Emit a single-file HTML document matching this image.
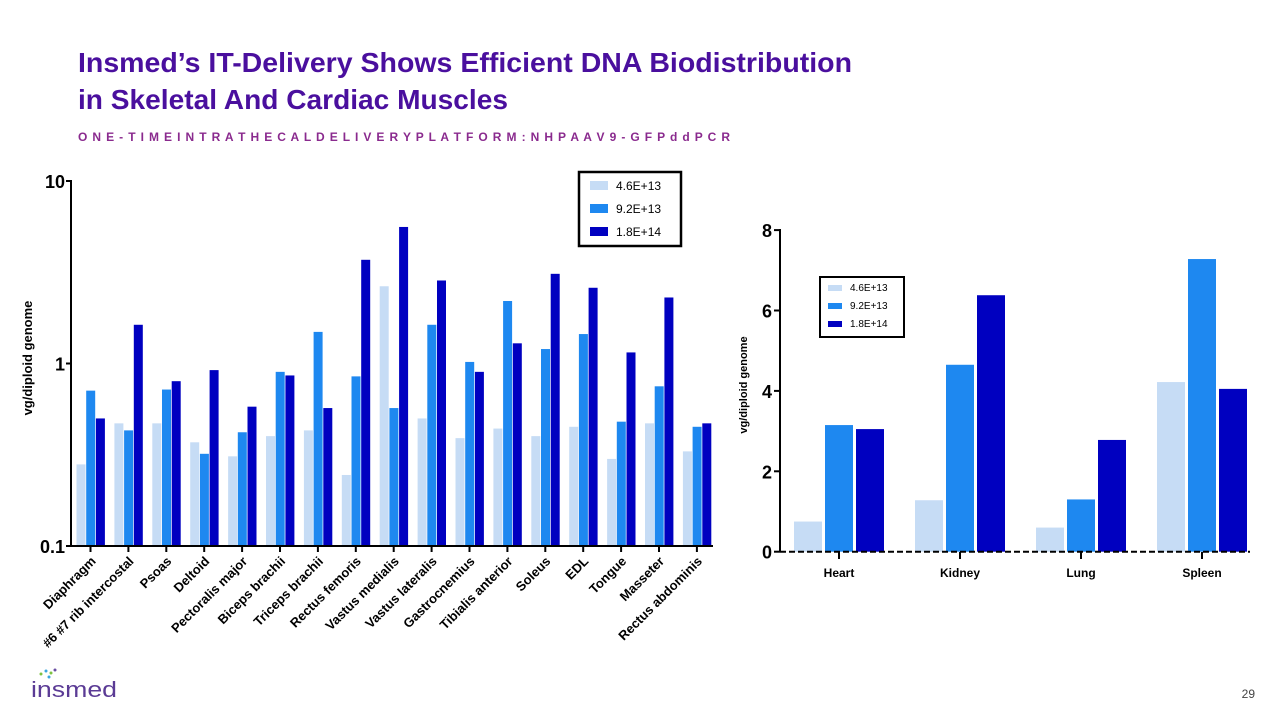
<!DOCTYPE html>
<html><head><meta charset="utf-8"><style>
body{margin:0;background:#fff;width:1280px;height:720px;overflow:hidden;font-family:"Liberation Sans",sans-serif}
svg{display:block}
</style></head><body>
<svg id="s" width="1280" height="720" viewBox="0 0 1280 720">
<text x="78" y="72" font-size="28" font-weight="bold" fill="#4a0f9e" textLength="774" lengthAdjust="spacingAndGlyphs">Insmed’s IT-Delivery Shows Efficient DNA Biodistribution</text>
<text x="78" y="109" font-size="28" font-weight="bold" fill="#4a0f9e" textLength="430" lengthAdjust="spacingAndGlyphs">in Skeletal And Cardiac Muscles</text>
<text x="78" y="141" font-size="12" font-weight="bold" fill="#8a2a8e" textLength="652" lengthAdjust="spacing">O N E - T I M E I N T R A T H E C A L D E L I V E R Y P L A T F O R M : N H P A A V 9 - G F P d d P C R</text>
<g>
<circle cx="41" cy="674" r="1.5" fill="#7dc242"/><circle cx="46" cy="671" r="1.5" fill="#3aa6dd"/><circle cx="51" cy="673" r="1.5" fill="#7dc242"/><circle cx="55" cy="670" r="1.5" fill="#6a4fa3"/><circle cx="49" cy="677" r="1.5" fill="#3aa6dd"/>
<text x="31" y="697" font-size="22" fill="#5b3b95" textLength="86" lengthAdjust="spacingAndGlyphs">insmed</text></g>
<text x="1255" y="698" font-size="12" fill="#444" text-anchor="end">29</text>
<g id="left"></g><g id="right"></g>
</svg>
<script>
const colors=["#c6dcf5","#1e88f0","#0000c0"];
const seriesNames=["4.6E+13","9.2E+13","1.8E+14"];
const muscles=["Diaphragm","#6 #7 rib intercostal","Psoas","Deltoid","Pectoralis major","Biceps brachii","Triceps brachii","Rectus femoris","Vastus medialis","Vastus lateralis","Gastrocnemius","Tibialis anterior","Soleus","EDL","Tongue","Masseter","Rectus abdominis"];
const muscleLow=[0.28,0.47,0.47,0.37,0.31,0.40,0.43,0.245,2.65,0.50,0.39,0.44,0.40,0.45,0.30,0.47,0.33];
const muscleMid=[0.71,0.43,0.72,0.32,0.42,0.90,1.49,0.85,0.57,1.63,1.02,2.2,1.2,1.45,0.48,0.75,0.45];
const muscleHigh=[0.50,1.63,0.80,0.92,0.58,0.86,0.57,3.7,5.6,2.85,0.90,1.29,3.1,2.6,1.15,2.3,0.47];
const logTicks=[10,1,0.1];
const organs=["Heart","Kidney","Lung","Spleen"];
const organLow=[0.75,1.28,0.6,4.22];
const organMid=[3.15,4.65,1.3,7.28];
const organHigh=[3.05,6.38,2.78,4.05];
const linTicks=[0,2,4,6,8];
const NS="http://www.w3.org/2000/svg";
function mk(p,t,a,txt){const e=document.createElementNS(NS,t);for(const k in a)e.setAttribute(k,a[k]);if(txt!==undefined)e.textContent=txt;p.appendChild(e);return e;}
// left chart
const L=document.getElementById('left');
const yL=v=>546-182.5*Math.log10(v/0.1);
const xL=i=>90.5+i*37.9;
const lseries=[muscleLow,muscleMid,muscleHigh];
lseries.forEach((arr,s)=>arr.forEach((v,i)=>{
 const r=mk(L,'rect',{x:xL(i)-14+s*9.7,y:yL(v),width:9,height:546-yL(v),fill:colors[s]});
 
 
}));
mk(L,'line',{x1:71,y1:180,x2:71,y2:547,stroke:'#000','stroke-width':2});
mk(L,'line',{x1:70,y1:546,x2:713,y2:546,stroke:'#000','stroke-width':2});
logTicks.forEach(t=>{
 mk(L,'line',{x1:66,y1:yL(t),x2:71,y2:yL(t),stroke:'#000','stroke-width':2});
 const tx=mk(L,'text',{x:65,y:yL(t)+7,'font-size':18,'font-weight':'bold','text-anchor':'end'},String(t));
 
 
});
muscles.forEach((m,i)=>{
 mk(L,'line',{x1:xL(i),y1:546,x2:xL(i),y2:552,stroke:'#000','stroke-width':2});
 const ax=xL(i)+6, ay=562;
 const tx=mk(L,'text',{x:ax,y:ay,'font-size':13,'font-weight':'bold','text-anchor':'end',transform:`rotate(-45 ${ax} ${ay})`},m);
 
 
});
const lyt=mk(L,'text',{x:32,y:358,'font-size':13,'font-weight':'bold','text-anchor':'middle',transform:'rotate(-90 32 358)'},'vg/diploid genome');


const lg=mk(L,'g',{});


mk(lg,'rect',{x:579,y:172,width:102,height:74,fill:'#fff',stroke:'#000','stroke-width':2.5});
seriesNames.forEach((n,s)=>{mk(lg,'rect',{x:590,y:181+s*23,width:18,height:9,fill:colors[s]});mk(lg,'text',{x:616,y:190+s*23,'font-size':12},n);});
// right chart
const R=document.getElementById('right');
const yR=v=>551.7-40.2*v;
const xR=i=>839+i*121;
const rseries=[organLow,organMid,organHigh];
rseries.forEach((arr,s)=>arr.forEach((v,i)=>{
 const r=mk(R,'rect',{x:xR(i)-45+s*31,y:yR(v),width:28,height:551.7-yR(v),fill:colors[s]});
 
 
}));
mk(R,'line',{x1:780,y1:229,x2:780,y2:552,stroke:'#000','stroke-width':2});
mk(R,'line',{x1:780,y1:551.7,x2:1250,y2:551.7,stroke:'#000','stroke-width':2,'stroke-dasharray':'6 3'});
linTicks.forEach(t=>{
 mk(R,'line',{x1:774,y1:yR(t),x2:780,y2:yR(t),stroke:'#000','stroke-width':2});
 const tx=mk(R,'text',{x:772,y:yR(t)+7,'font-size':18,'font-weight':'bold','text-anchor':'end'},String(t));
 
 
});
organs.forEach((o,i)=>{
 mk(R,'line',{x1:xR(i),y1:552,x2:xR(i),y2:559,stroke:'#000','stroke-width':2});
 const tx=mk(R,'text',{x:xR(i),y:577,'font-size':12,'font-weight':'bold','text-anchor':'middle'},o);
 
 
});
const ryt=mk(R,'text',{x:747,y:385,'font-size':11,'font-weight':'bold','text-anchor':'middle',transform:'rotate(-90 747 385)'},'vg/diploid genome');


const rg=mk(R,'g',{});


mk(rg,'rect',{x:820,y:277,width:84,height:60,fill:'#fff',stroke:'#000','stroke-width':2});
seriesNames.forEach((n,s)=>{mk(rg,'rect',{x:828,y:285+s*18,width:14,height:6,fill:colors[s]});mk(rg,'text',{x:850,y:291+s*18,'font-size':10},n);});
</script>
</body></html>
